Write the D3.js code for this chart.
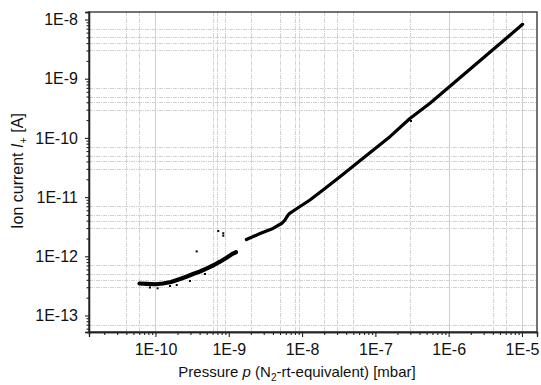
<!DOCTYPE html>
<html>
<head>
<meta charset="utf-8">
<script src="https://cdn.jsdelivr.net/npm/d3@7"></script>
<style>
body { margin:0; background:#fff; }
text { font-family: "Liberation Sans", Arial, sans-serif; fill:#111; }
</style>
</head>
<body>
<div id="chart"></div>
<script>

// low pressure part, noisy band (p in mbar, I in A)
var bandP = [6.05e-11, 7.66e-11, 1.0e-10, 1.26e-10, 1.63e-10, 2.16e-10, 2.69e-10, 3.25e-10,
             4.05e-10, 5.04e-10, 6.28e-10, 7.59e-10, 9.45e-10, 1.14e-9, 1.25e-9];
var bandI = [3.47e-13, 3.43e-13, 3.37e-13, 3.47e-13, 3.68e-13, 4.14e-13, 4.56e-13, 5.02e-13,
             5.53e-13, 6.27e-13, 7.13e-13, 8.11e-13, 9.55e-13, 1.11e-12, 1.17e-12];

// upper part, 1.7E-9 .. 1E-5
var riseP = [1.74e-9, 2.67e-9, 4.01e-9, 5.24e-9, 5.84e-9, 6.32e-9, 6.63e-9, 8.51e-9,
             1.28e-8, 1.93e-8, 3.29e-8, 6.78e-8, 1.58e-7, 2.96e-7, 5.56e-7, 1.02e-5];
var riseI = [1.92e-12, 2.43e-12, 2.95e-12, 3.58e-12, 4.10e-12, 4.80e-12, 5.22e-12, 6.41e-12,
             8.93e-12, 1.32e-11, 2.21e-11, 4.52e-11, 1.05e-10, 2.13e-10, 3.84e-10, 8.29e-9];

// single stray points
var strayP = [3.65e-10, 7.19e-10, 8.41e-10, 8.41e-10, 8.41e-11, 1.07e-10, 1.58e-10, 1.95e-10,
              2.96e-10, 4.73e-10, 3.06e-7];
var strayI = [1.21e-12, 2.67e-12, 2.45e-12, 2.23e-12, 2.97e-13, 2.88e-13, 3.15e-13, 3.27e-13,
              3.83e-13, 5.02e-13, 1.93e-10];

var xTicks = [1e-10, 1e-9, 1e-8, 1e-7, 1e-6, 1e-5];
var yTicks = [1e-13, 1e-12, 1e-11, 1e-10, 1e-9, 1e-8];
var xGridSolid = [1e-10, 1e-6, 1e-5];
var xGridDotted = [4e-11, 6e-11, 6e-10, 7e-10, 9e-10, 2e-9, 5e-9, 8e-9, 9e-9,
                   2e-8, 3e-8, 5e-8, 3e-7, 4e-6, 6e-6];
var yGridMant = [3, 4, 5, 7];

var W = 541, H = 385;
var L = 89, R = 537, T = 12, B = 332;

var x = d3.scaleLog().domain([Math.pow(10,-10.907), Math.pow(10,-4.795)]).range([L,R]);
var y = d3.scaleLog().domain([Math.pow(10,-13.279), Math.pow(10,-7.873)]).range([B,T]);

function minors(scale){
    var dom = scale.domain(), out = [];
    for (var e = -15; e <= -3; e++){
        for (var m = 2; m <= 9; m++){
            var v = m*Math.pow(10,e);
            if (v >= dom[0] && v <= dom[1]) out.push(v);
        }
    }
    return out;
}
function lab(d){ return '1E' + Math.round(Math.log10(d)); }

var svg = d3.select('#chart').append('svg')
    .attr('width',W).attr('height',H);

// grid
var yGrid = [];
for (var e = -14; e <= -8; e++) yGridMant.forEach(function(m){
    var v = m*Math.pow(10,e);
    if (v >= y.domain()[0] && v <= y.domain()[1]) yGrid.push(v);
});

var grid = svg.append('g');
grid.selectAll('.hg').data(yGrid).enter().append('line')
    .attr('x1',L).attr('x2',R)
    .attr('y1',function(d){return Math.round(y(d))+0.5})
    .attr('y2',function(d){return Math.round(y(d))+0.5})
    .attr('stroke','#d2d2d2').attr('stroke-dasharray','4,1,1,1');
grid.selectAll('.vg').data(xGridDotted).enter().append('line')
    .attr('y1',T).attr('y2',B)
    .attr('x1',function(d){return Math.round(x(d))+0.5})
    .attr('x2',function(d){return Math.round(x(d))+0.5})
    .attr('stroke','#d2d2d2').attr('stroke-dasharray','4,1,1,1');
grid.selectAll('.vs').data(xGridSolid).enter().append('line')
    .attr('y1',T).attr('y2',B)
    .attr('x1',function(d){return Math.round(x(d))+0.5})
    .attr('x2',function(d){return Math.round(x(d))+0.5})
    .attr('stroke','#cfcfcf');

// data
var line = d3.line()
    .x(function(d){return x(d[0])})
    .y(function(d){return y(d[1])});

svg.append('path')
    .datum(d3.zip(bandP, bandI))
    .attr('d', line)
    .attr('fill','none').attr('stroke','#000')
    .attr('stroke-width',4.2).attr('stroke-linecap','round').attr('stroke-linejoin','round');

svg.append('path')
    .datum(d3.zip(riseP, riseI))
    .attr('d', line)
    .attr('fill','none').attr('stroke','#000')
    .attr('stroke-width',3.2).attr('stroke-linecap','round').attr('stroke-linejoin','round');

svg.selectAll('.stray').data(d3.zip(strayP, strayI)).enter().append('rect')
    .attr('x',function(d){return x(d[0])-1})
    .attr('y',function(d){return y(d[1])-1})
    .attr('width',2).attr('height',2)
    .attr('fill','#000');

// frame
svg.append('rect')
    .attr('x',L).attr('y',T).attr('width',R-L).attr('height',B-T)
    .attr('fill','none').attr('stroke','#444').attr('stroke-width',1.5);

// axes
var xAx = svg.append('g').attr('transform','translate(0,'+B+')');
xAx.call(d3.axisBottom(x).tickValues(minors(x)).tickSize(3).tickFormat(''));
xAx.append('g').call(d3.axisBottom(x).tickValues(xTicks).tickSize(5).tickPadding(7).tickFormat(lab));

var yAx = svg.append('g').attr('transform','translate('+L+',0)');
yAx.call(d3.axisLeft(y).tickValues(minors(y)).tickSize(2.5).tickFormat(''));
yAx.append('g').call(d3.axisLeft(y).tickValues(yTicks).tickSize(4).tickPadding(7).tickFormat(lab));

svg.selectAll('.domain').attr('stroke','#222').attr('stroke-width',1.3);
svg.selectAll('.tick line').attr('stroke','#222').attr('stroke-width',1.1);
svg.selectAll('.tick text')
    .style('font-family','"Liberation Sans", Arial, sans-serif')
    .style('font-size','16px').attr('fill','#111');

// titles
var xt = svg.append('text')
    .attr('x',297).attr('y',377)
    .attr('text-anchor','middle')
    .style('font-size','15px');
xt.append('tspan').text('Pressure ');
xt.append('tspan').style('font-style','italic').text('p');
xt.append('tspan').text(' (N');
xt.append('tspan').attr('dy',4).style('font-size','10px').text('2');
xt.append('tspan').attr('dy',-4).text('-rt-equivalent) [mbar]');

var yt = svg.append('text')
    .attr('transform','translate(23,171) rotate(-90)')
    .attr('text-anchor','middle')
    .style('font-size','16px');
yt.append('tspan').text('Ion current ');
yt.append('tspan').style('font-style','italic').text('I');
yt.append('tspan').attr('dy',4).style('font-size','11px').text('+');
yt.append('tspan').attr('dy',-4).text(' [A]');

</script>
</body>
</html>
